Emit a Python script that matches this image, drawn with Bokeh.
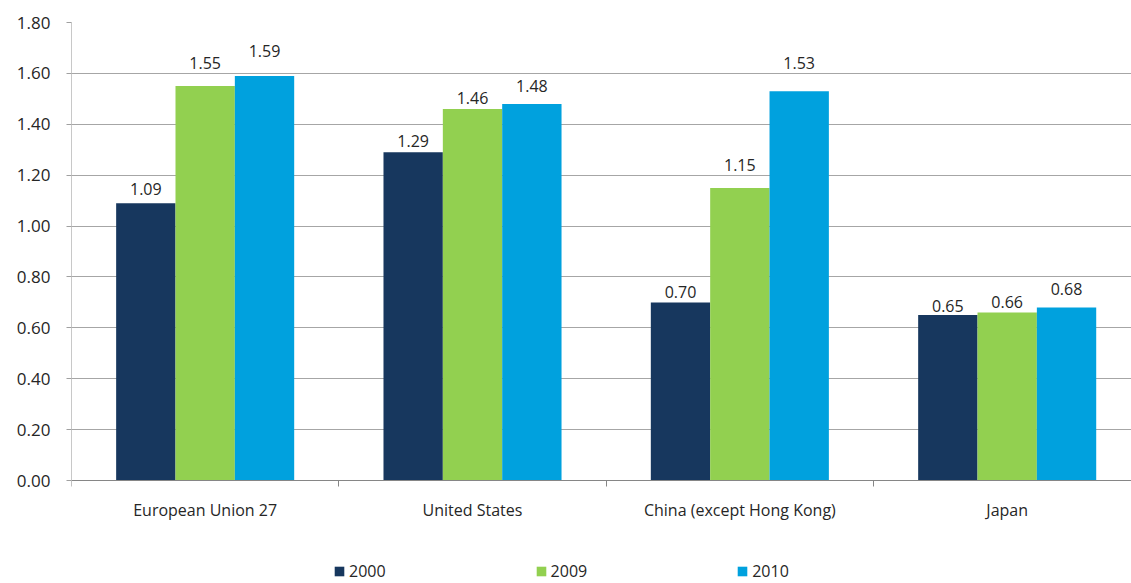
import numpy as np
from bokeh.plotting import figure
from bokeh.models import (ColumnDataSource, Range1d, FixedTicker, LinearAxis,
                          PrintfTickFormatter, Legend, LegendItem, LabelSet)
from bokeh.core.properties import value
from bokeh.embed import file_html
from bokeh.resources import INLINE

# ---- data ----
categories = ["European Union 27", "United States", "China (except Hong Kong)", "Japan"]
series_names = ["2000", "2009", "2010"]
values_2000 = [1.09, 1.29, 0.70, 0.65]
values_2009 = [1.55, 1.46, 1.15, 0.66]
values_2010 = [1.59, 1.48, 1.53, 0.68]
y_ticks = [0.0, 0.2, 0.4, 0.6, 0.8, 1.0, 1.2, 1.4, 1.6, 1.8]

# ---- styling ----
colors = ["#17375E", "#92D050", "#00A1DE"]
FONT = "Open Sans"
# pixel gap between each data label's baseline and its bar top (labels were nudged by hand in the original)
label_gap_2000 = [8, 5, 4, 3]
label_gap_2009 = [17, 5, 17, 5]
label_gap_2010 = [19, 12, 22, 12]

# frame spans to the bottom of the canvas; the value axis starts below 0 to leave room
# for category labels and legend (0 sits at pixel row 480)
px_per_unit = (480 - 22) / 1.8
y_min = -(583 - 480) / px_per_unit

p = figure(width=1131, height=583, output_backend="svg", toolbar_location=None,
           x_range=Range1d(0, 3.965), y_range=Range1d(y_min, 1.8),
           x_axis_type=None, min_border_left=71, min_border_right=0,
           min_border_top=22, min_border_bottom=0)
p.outline_line_color = None
p.background_fill_color = "white"
p.border_fill_color = "white"

centers = np.arange(len(categories)) + 0.5
bar_w = 0.222
offsets = [-bar_w, 0.0, bar_w]
renderers = []
for vals, gaps, off, col in zip([values_2000, values_2009, values_2010],
                                [label_gap_2000, label_gap_2009, label_gap_2010],
                                offsets, colors):
    src = ColumnDataSource(dict(x=centers + off, top=vals, gap=gaps,
                                label=[f"{v:.2f}" for v in vals]))
    r = p.vbar(x="x", top="top", width=bar_w, bottom=0, source=src,
               fill_color=col, line_color=None)
    renderers.append(r)
    labels = LabelSet(x="x", y="top", text="label", source=src, text_align="center",
                      text_baseline="alphabetic", y_offset="gap", text_font=value(FONT),
                      text_font_size=value("16px"), text_color=value("#262626"))
    p.add_layout(labels)

# y axis
ya = p.yaxis[0]
ya.ticker = FixedTicker(ticks=y_ticks)
ya.formatter = PrintfTickFormatter(format="%.2f")
ya.bounds = (0, 1.8)
ya.major_label_text_font = FONT
ya.major_label_text_font_size = "17px"
ya.major_label_text_color = "#262626"
ya.axis_line_color = "#C8C8C8"
ya.major_tick_line_color = "#A0A0A0"
ya.major_tick_out = 5
ya.major_tick_in = 0
ya.minor_tick_line_color = None
ya.major_label_standoff = 16

# x axis (category axis drawn at value 0)
xa = LinearAxis(ticker=FixedTicker(ticks=list(centers), minor_ticks=[0, 1, 2, 3, 4]),
                fixed_location=0)
xa.major_label_overrides = {float(c): name for c, name in zip(centers, categories)}
xa.major_tick_line_color = None
xa.major_tick_out = 0
xa.major_tick_in = 0
xa.minor_tick_line_color = "#868686"
xa.minor_tick_out = 6
xa.minor_tick_in = 0
xa.axis_line_color = "#868686"
xa.major_label_text_font = FONT
xa.major_label_text_font_size = "16px"
xa.major_label_text_color = "#262626"
xa.major_label_standoff = 12
p.add_layout(xa, "below")

p.xgrid.visible = False
p.ygrid.grid_line_color = "#A6A6A6"
p.ygrid.ticker = FixedTicker(ticks=y_ticks)

legend = Legend(items=[LegendItem(label=n, renderers=[r]) for n, r in zip(series_names, renderers)],
                orientation="horizontal", location=(262, 1), padding=0, margin=0,
                spacing=149, glyph_width=12, glyph_height=12, label_standoff=4,
                label_height=16,
                label_text_font=FONT, label_text_font_size="16px",
                label_text_color="#262626", border_line_color=None,
                background_fill_alpha=0)
p.add_layout(legend, "center")

open("out.html", "w").write(file_html(p, INLINE))
